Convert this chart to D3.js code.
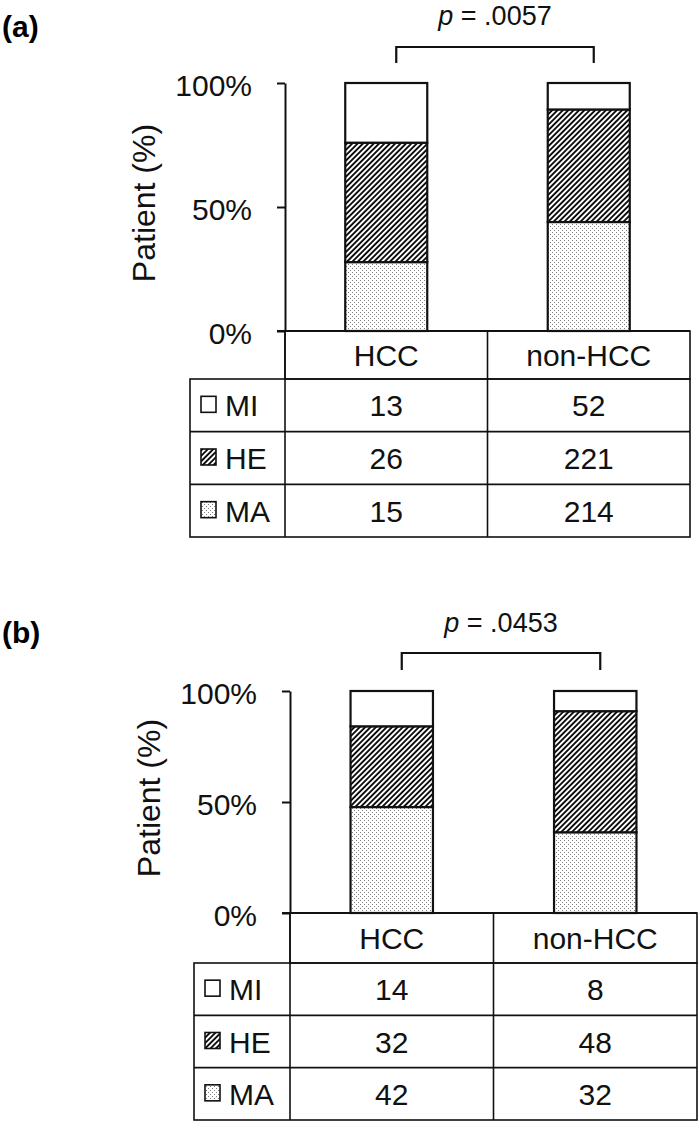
<!DOCTYPE html>
<html>
<head>
<meta charset="utf-8">
<script src="https://cdn.jsdelivr.net/npm/d3@7"></script>
<style>
  body { margin: 0; background: #fff; }
  svg { display: block; font-family: "Liberation Sans", Arial, sans-serif; }
</style>
</head>
<body>
<div id="chart"></div>
<script>
// categories and tissue types
var GROUPS = ["HCC", "non-HCC"];
var TYPES = ["MI", "HE", "MA"];          // table order, top to bottom
var STACK_ORDER = ["MA", "HE", "MI"];    // bar order, bottom to top
var TICKS = [0, 50, 100];

// patient counts, one array per type: [HCC, non-HCC]
var A_MI = [13, 52];
var A_HE = [26, 221];
var A_MA = [15, 214];

var B_MI = [14, 8];
var B_HE = [32, 48];
var B_MA = [42, 32];

var P_VALUES = [".0057", ".0453"];
var PANEL_LABELS = ["(a)", "(b)"];

// layout of the two panels (pixels)
var PANELS = [
    { label: PANEL_LABELS[0], p: P_VALUES[0], counts: { MI: A_MI, HE: A_HE, MA: A_MA },
      tableLeft: 190, axisX: 285, right: 690,
      yTop: 83, yZero: 331, headerBottom: 379, tableBottom: 537,
      labelY: 37, pY: 25, bracketY: 47, bracketBottom: 63 },
    { label: PANEL_LABELS[1], p: P_VALUES[1], counts: { MI: B_MI, HE: B_HE, MA: B_MA },
      tableLeft: 194, axisX: 290, right: 697,
      yTop: 691, yZero: 913, headerBottom: 963, tableBottom: 1120,
      labelY: 643, pY: 632, bracketY: 653, bracketBottom: 670 }
];

var WIDTH = 700, HEIGHT = 1124;
var FILLS = { MI: "#fff", HE: "url(#hatch)", MA: "url(#dots)" };

var svg = d3.select("#chart").append("svg")
    .attr("width", WIDTH)
    .attr("height", HEIGHT);

// patterns for the bar segments
var defs = svg.append("defs");

var hatch = defs.append("pattern")
    .attr("id", "hatch")
    .attr("patternUnits", "userSpaceOnUse")
    .attr("width", 3.8).attr("height", 3.8)
    .attr("patternTransform", "rotate(45)");
hatch.append("rect").attr("width", 3.8).attr("height", 3.8).attr("fill", "#fff");
hatch.append("line")
    .attr("x1", 1).attr("y1", 0).attr("x2", 1).attr("y2", 3.8)
    .attr("stroke", "#000").attr("stroke-width", 1.8);

var dots = defs.append("pattern")
    .attr("id", "dots")
    .attr("patternUnits", "userSpaceOnUse")
    .attr("width", 4).attr("height", 4);
dots.append("rect").attr("width", 4).attr("height", 4).attr("fill", "#fff");
dots.append("rect").attr("x", 0).attr("y", 0).attr("width", 1).attr("height", 1).attr("fill", "#808080");
dots.append("rect").attr("x", 2).attr("y", 2).attr("width", 1).attr("height", 1).attr("fill", "#808080");

PANELS.forEach(drawPanel);

function drawPanel(cfg) {
    var g = svg.append("g");

    var x = d3.scaleBand()
        .domain(GROUPS)
        .range([cfg.axisX, cfg.right]);

    var y = d3.scaleLinear()
        .domain([0, 100])
        .range([cfg.yZero, cfg.yTop]);

    var rowY = d3.scaleBand()
        .domain(TYPES)
        .range([cfg.headerBottom, cfg.tableBottom]);

    var barW = x.bandwidth() * 0.405;

    // stack data as percentages
    var rows = GROUPS.map(function(grp, i) {
        var r = { group: grp };
        var total = d3.sum(TYPES, function(t) { return cfg.counts[t][i]; });
        TYPES.forEach(function(t) { r[t] = cfg.counts[t][i] / total * 100; });
        return r;
    });
    var series = d3.stack().keys(STACK_ORDER)(rows);

    // panel label
    g.append("text")
        .attr("x", 2).attr("y", cfg.labelY)
        .attr("font-size", 30).attr("font-weight", "bold")
        .text(cfg.label);

    // bars
    series.forEach(function(s) {
        g.selectAll(null)
            .data(s)
            .enter()
            .append("rect")
                .attr("x", function(d) { return x(d.data.group) + (x.bandwidth() - barW) / 2; })
                .attr("y", function(d) { return y(d[1]); })
                .attr("width", barW)
                .attr("height", function(d) { return y(d[0]) - y(d[1]); })
                .attr("fill", FILLS[s.key])
                .attr("stroke", "#111")
                .attr("stroke-width", 2.2);
    });

    // y axis
    var axis = g.append("g")
        .attr("transform", "translate(" + cfg.axisX + ",0)")
        .call(d3.axisLeft(y)
            .tickValues(TICKS)
            .tickFormat(function(d) { return d + "%"; })
            .tickSize(8)
            .tickSizeOuter(0)
            .tickPadding(25));
    axis.select(".domain").attr("stroke", "#111").attr("stroke-width", 2);
    axis.selectAll(".tick line").attr("stroke", "#111").attr("stroke-width", 2);
    axis.selectAll(".tick text")
        .attr("font-size", 30)
        .attr("font-family", "'Liberation Sans', Arial, sans-serif")
        .attr("fill", "#111")
        .attr("dy", "0.4em");

    g.append("text")
        .attr("transform", "translate(" + (cfg.axisX - 141) + "," + ((cfg.yTop + cfg.yZero) / 2 - 4) + ") rotate(-90)")
        .attr("text-anchor", "middle")
        .attr("dy", "0.35em")
        .attr("font-size", 32)
        .attr("fill", "#111")
        .text("Patient (%)");

    // p-value bracket
    var bx1 = x(GROUPS[0]) + x.bandwidth() / 2 + 10;
    var bx2 = x(GROUPS[1]) + x.bandwidth() / 2 + 5;
    g.append("path")
        .attr("d", "M" + bx1 + "," + cfg.bracketBottom + "V" + cfg.bracketY + "H" + bx2 + "V" + cfg.bracketBottom)
        .attr("fill", "none")
        .attr("stroke", "#111")
        .attr("stroke-width", 2.2);

    var pt = g.append("text")
        .attr("x", (bx1 + bx2) / 2).attr("y", cfg.pY)
        .attr("text-anchor", "middle")
        .attr("font-size", 27)
        .attr("fill", "#111");
    pt.append("tspan").attr("font-style", "italic").text("p");
    pt.append("tspan").text(" = " + cfg.p);

    // table grid
    var lineStyle = function(sel) {
        sel.attr("stroke", "#111").attr("stroke-width", 1.6).attr("fill", "none");
    };
    // header row (group names)
    g.append("rect")
        .attr("x", cfg.axisX).attr("y", cfg.yZero)
        .attr("width", cfg.right - cfg.axisX)
        .attr("height", cfg.headerBottom - cfg.yZero)
        .call(lineStyle);
    // body
    g.append("rect")
        .attr("x", cfg.tableLeft).attr("y", cfg.headerBottom)
        .attr("width", cfg.right - cfg.tableLeft)
        .attr("height", cfg.tableBottom - cfg.headerBottom)
        .call(lineStyle);
    // horizontal lines between rows
    g.selectAll(null)
        .data(TYPES.slice(1))
        .enter()
        .append("line")
            .attr("x1", cfg.tableLeft).attr("x2", cfg.right)
            .attr("y1", function(t) { return rowY(t); })
            .attr("y2", function(t) { return rowY(t); })
            .call(lineStyle);
    // vertical lines
    g.selectAll(null)
        .data([cfg.axisX, x(GROUPS[1])])
        .enter()
        .append("line")
            .attr("x1", function(d) { return d; }).attr("x2", function(d) { return d; })
            .attr("y1", cfg.yZero).attr("y2", cfg.tableBottom)
            .call(lineStyle);
    // x axis line over the header
    g.append("line")
        .attr("x1", cfg.axisX - 8).attr("x2", cfg.right)
        .attr("y1", cfg.yZero).attr("y2", cfg.yZero)
        .attr("stroke", "#111").attr("stroke-width", 2);

    // header text
    g.selectAll(null)
        .data(GROUPS)
        .enter()
        .append("text")
            .attr("x", function(d) { return x(d) + x.bandwidth() / 2; })
            .attr("y", (cfg.yZero + cfg.headerBottom) / 2 + 11)
            .attr("text-anchor", "middle")
            .attr("font-size", 30)
            .attr("fill", "#111")
            .text(function(d) { return d; });

    // row labels with pattern swatches
    TYPES.forEach(function(t) {
        var cy = rowY(t) + rowY.bandwidth() / 2;
        g.append("rect")
            .attr("x", cfg.tableLeft + 11).attr("y", cy - 9)
            .attr("width", 15).attr("height", 16)
            .attr("fill", FILLS[t])
            .attr("stroke", "#111")
            .attr("stroke-width", 1.6);
        g.append("text")
            .attr("x", cfg.tableLeft + 35)
            .attr("y", cy + 11)
            .attr("font-size", 30)
            .attr("fill", "#111")
            .text(t);

        g.selectAll(null)
            .data(GROUPS)
            .enter()
            .append("text")
                .attr("x", function(d) { return x(d) + x.bandwidth() / 2; })
                .attr("y", cy + 11)
                .attr("text-anchor", "middle")
                .attr("font-size", 30)
                .attr("fill", "#111")
                .text(function(d, i) { return cfg.counts[t][i]; });
    });
}
</script>
</body>
</html>
